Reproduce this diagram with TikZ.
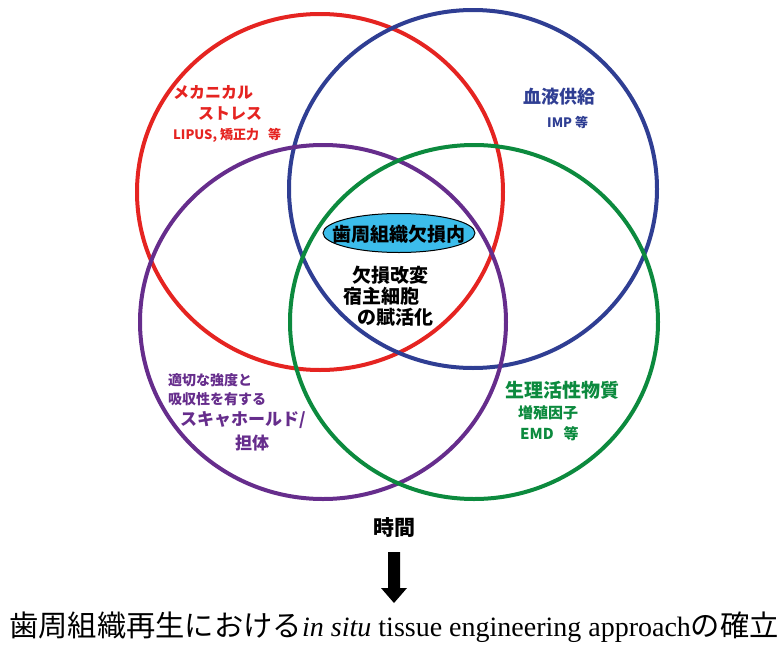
\documentclass[tikz,border=0pt]{standalone}
\usepackage{fontspec}
\setmainfont{Liberation Serif}
\newfontfamily\cjk{Noto Sans CJK JP}
\usetikzlibrary{shapes.geometric}
\definecolor{cred}{HTML}{E52421}
\definecolor{cblue}{HTML}{2F3E93}
\definecolor{cpurple}{HTML}{662D8C}
\definecolor{cgreen}{HTML}{0C8A3E}
\definecolor{cfill}{HTML}{3CBDEB}
\begin{document}
\begin{tikzpicture}[x=1pt,y=-1pt,
  ring/.style={line width=4pt},
  lab/.style={inner sep=0pt, anchor=west, font=\cjk\bfseries},
  s13/.style={font=\cjk\bfseries\fontsize{13}{13}\selectfont},
  s14/.style={font=\cjk\bfseries\fontsize{14}{14}\selectfont},
  s15/.style={font=\cjk\bfseries\fontsize{15}{15}\selectfont},
  s16/.style={font=\cjk\bfseries\fontsize{16}{16}\selectfont},
  s17/.style={font=\cjk\bfseries\fontsize{17}{17}\selectfont},
  s18/.style={font=\cjk\bfseries\fontsize{18}{18}\selectfont},
  s19/.style={font=\cjk\bfseries\fontsize{19}{19}\selectfont},
  s21/.style={font=\cjk\bfseries\fontsize{21}{21}\selectfont}]
\useasboundingbox (0,0) rectangle (782,648);
% rings
\draw[ring, cred]    (320,192) ellipse [x radius=183pt, y radius=178pt];
\draw[ring, cblue]   (473,189) ellipse [x radius=184pt, y radius=179pt];
\draw[ring, cpurple] (323,322) ellipse [x radius=183pt, y radius=177pt];
\draw[ring, cgreen]  (474,322) ellipse [x radius=184pt, y radius=177pt];
% centre
\node[ellipse, draw=black, line width=1pt, fill=cfill, minimum width=152pt, minimum height=39pt, inner sep=0pt] (defect) at (399,233) {};
\node[s19, inner sep=0pt] (defectlab) at (399,234) {歯周組織欠損内};
\node[lab, s19] (c1) at (352,275) {欠損改変};
\node[lab, s19] (c2) at (343,296) {宿主細胞};
\node[lab, s19] (c3) at (357,317) {の賦活化};
% red
\node[lab, s16, text=cred] (r1) at (173,92) {メカニカル};
\node[lab, s16, text=cred] (r2) at (198,114) {ストレス};
\node[lab, s13, text=cred] (r3) at (173,135) {LIPUS, 矯正力\hspace{9pt}等};
% blue
\node[lab, s18, text=cblue] (b1) at (523,97) {血液供給};
\node[lab, s13, text=cblue] (b2) at (547,122) {IMP 等};
% purple
\node[lab, s14, text=cpurple] (p1) at (168,380) {適切な強度と};
\node[lab, s14, text=cpurple] (p2) at (168,399) {吸収性を有する};
\node[lab, s17, text=cpurple] (p3) at (180,420) {スキャホールド/};
\node[lab, s17, text=cpurple] (p4) at (235,443) {担体};
% green
\node[lab, s19, text=cgreen] (g1) at (505,390) {生理活性物質};
\node[lab, s15, text=cgreen] (g2) at (518,413) {増殖因子};
\node[lab, s15, text=cgreen] (g3) at (520,434) {EMD\hspace{10pt}等};
% time
\node[lab, s21] (time) at (373,528) {時間};
\fill[black] (388,552) -- (400,552) -- (400,588) -- (407,588) -- (394,603) -- (381,588) -- (388,588) -- cycle;
% bottom
\node[inner sep=0pt, anchor=west, font=\fontsize{28}{28}\selectfont] (title) at (9,627)
  {{\cjk\fontsize{29.3}{29.3}\selectfont 歯周組織再生における}\textit{in situ} tissue engineering approach{\cjk\fontsize{29.3}{29.3}\selectfont の確立}};
\end{tikzpicture}
\end{document}
